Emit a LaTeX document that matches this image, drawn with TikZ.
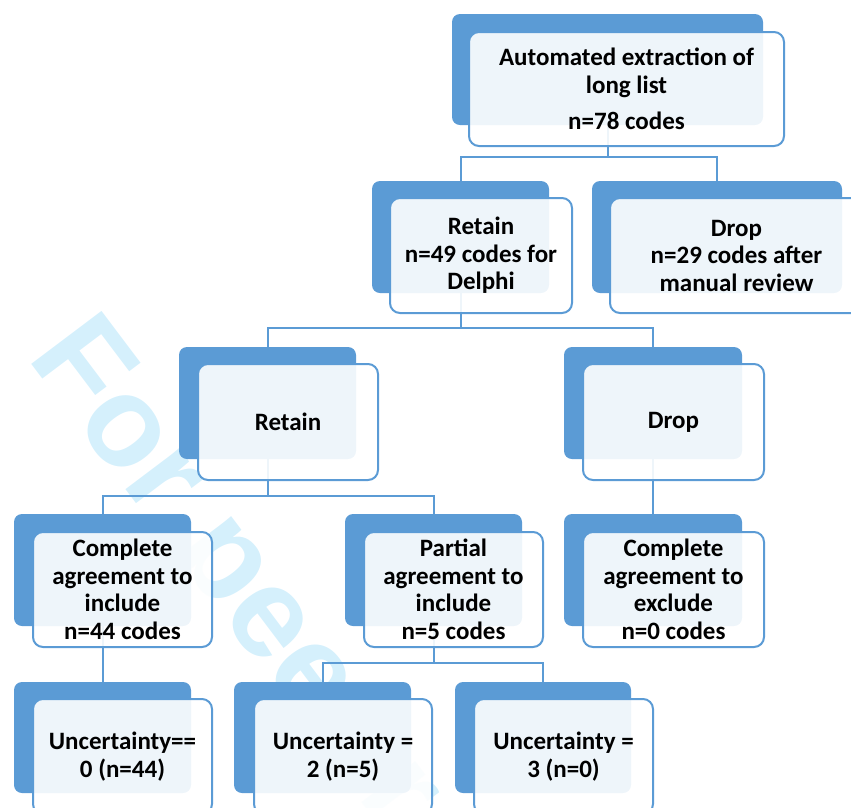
\documentclass[tikz,border=0pt]{standalone}
\usepackage{fontspec}
\setmainfont{Carlito}
\newfontfamily\wmfont{Liberation Sans}
\definecolor{boxblue}{HTML}{5B9BD5}
\definecolor{wmcyan}{HTML}{D5F0FC}
\tikzset{
 darkbox/.style={fill=boxblue, rounded corners=8pt, inner sep=0pt, draw=none},
 frontbox/.style={draw=boxblue, line width=2pt, fill=white, fill opacity=0.9, text opacity=1, rounded corners=10pt, inner sep=0pt, align=center, font=\fontsize{25}{27.5}\selectfont\bfseries},
 conn/.style={draw=boxblue, line width=2pt},
 watermark/.style={text=wmcyan, inner sep=0pt, anchor=base west, rotate=-53, font=\wmfont\fontsize{128}{130}\selectfont\bfseries},
}
\newcommand\DarkBox[5]{\node[darkbox, minimum width={#4-#2}, minimum height={#5-#3}] (#1) at ({(#2+#4)/2},{(#3+#5)/2}) {};}
\newcommand\FrontBox[6]{\node[frontbox, minimum width={#4-#2}, minimum height={#5-#3}] (#1) at ({(#2+#4)/2},{(#3+#5)/2}) {#6};}
\begin{document}
\begin{tikzpicture}[x=1pt,y=-1pt]
\useasboundingbox (0,0) rectangle (851,807);
\clip (0,0) rectangle (851,807);
\node[watermark] (wm) at (26.6,357.8) {For peer review only};
% dark back boxes
\DarkBox{topd}{452}{14}{763}{125}
\DarkBox{ret49d}{372}{181}{549}{293}
\DarkBox{drop29d}{592}{181}{842}{293}
\DarkBox{retd}{179}{347}{356}{459}
\DarkBox{dropd}{564}{347}{742}{459}
\DarkBox{cincd}{14}{514}{191}{626}
\DarkBox{partd}{345}{514}{522}{626}
\DarkBox{cexcd}{564}{514}{742}{626}
\DarkBox{unc0d}{14}{682}{191}{793}
\DarkBox{unc2d}{234}{682}{411}{793}
\DarkBox{unc3d}{455}{682}{631}{793}
% connectors
\coordinate (b1) at (0,157);
\draw[conn] (topd.south) -- (topd.south |- b1);
\draw[conn] (ret49d.north) -- (ret49d.north |- b1) -- (drop29d.north |- b1) -- (drop29d.north);
\coordinate (b2) at (0,328);
\draw[conn] (ret49d.south) -- (ret49d.south |- b2);
\draw[conn] (retd.north) -- (retd.north |- b2) -- (dropd.north |- b2) -- (dropd.north);
\coordinate (b3) at (0,496);
\draw[conn] (retd.south) -- (retd.south |- b3);
\draw[conn] (cincd.north) -- (cincd.north |- b3) -- (partd.north |- b3) -- (partd.north);
\draw[conn] (dropd.south) -- (cexcd.north);
\draw[conn] (cincd.south) -- (unc0d.north);
\coordinate (b4) at (0,663);
\draw[conn] (partd.south) -- (partd.south |- b4);
\draw[conn] (unc2d.north) -- (unc2d.north |- b4) -- (unc3d.north |- b4) -- (unc3d.north);
% front boxes
\FrontBox{top}{469}{32}{784}{146}{Automated extraction of\\long list\\[9pt]n=78 codes}
\FrontBox{ret49}{390}{198}{572}{313}{Retain\\n=49 codes for\\Delphi}
\FrontBox{drop29}{610}{198}{863}{313}{Drop\\n=29 codes after\\manual review}
\FrontBox{ret}{198}{364}{378}{480}{Retain}
\FrontBox{drop}{583}{364}{764}{480}{Drop}
\FrontBox{cinc}{33}{532}{212}{647}{Complete\\agreement to\\include\\n=44 codes}
\FrontBox{part}{364}{532}{543}{647}{Partial\\agreement to\\include\\n=5 codes}
\FrontBox{cexc}{583}{532}{764}{647}{Complete\\agreement to\\exclude\\n=0 codes}
\FrontBox{unc0}{33}{699}{212}{814}{Uncertainty==\\0 (n=44)}
\FrontBox{unc2}{254}{699}{432}{814}{Uncertainty =\\2 (n=5)}
\FrontBox{unc3}{474}{699}{653}{814}{Uncertainty =\\3 (n=0)}
\end{tikzpicture}
\end{document}
